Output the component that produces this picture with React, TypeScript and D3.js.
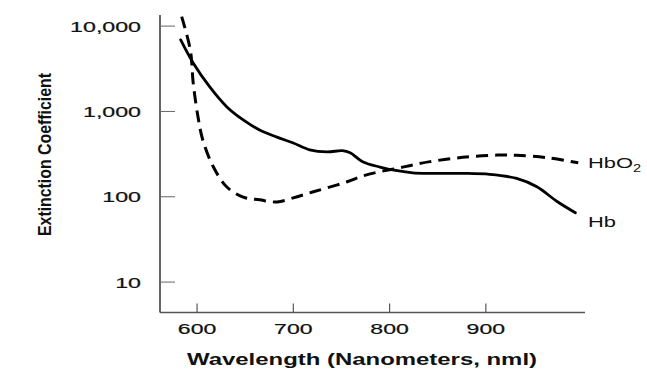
import React from "react";
import * as d3 from "d3";

const wavelengthTicks = [600, 700, 800, 900];
const coefTicks = [10, 100, 1000, 10000];
const coefTickLabels = ["10", "100", "1,000", "10,000"];

const hbWavelength = [583, 596, 613, 631, 648, 665, 683, 700, 717, 735, 751, 759, 772, 790, 808, 824, 842, 876, 904, 932, 953, 974, 993];
const hbValues = [6900, 3700, 1950, 1130, 795, 605, 500, 427, 355, 335, 347, 328, 258, 223, 202, 191, 188, 188, 183, 164, 131, 88, 65];

const hbo2Wavelength = [584, 593, 596, 601, 606, 617, 631, 648, 665, 683, 700, 717, 735, 756, 772, 790, 808, 824, 842, 876, 912, 932, 964, 996];
const hbo2Values = [12900, 5250, 2150, 860, 460, 223, 130, 99, 92, 87, 97, 111, 127, 150, 175, 197, 215, 236, 258, 290, 308, 306, 287, 250];

const W = 647;
const H = 372;
const FONT = "'Liberation Sans', Arial, Helvetica, sans-serif";

export default function App() {
  const x = d3.scaleLinear().domain([561.5, 1003]).range([160, 585]);
  const y = d3.scaleLog().domain([4.4, 13500]).range([312.5, 15]);

  const line = d3
    .line<[number, number]>()
    .x((d) => x(d[0]))
    .y((d) => y(d[1]))
    .curve(d3.curveCatmullRom.alpha(0.5));

  const hbPts: [number, number][] = hbWavelength.map((w, i) => [w, hbValues[i]]);
  const hbo2Pts: [number, number][] = hbo2Wavelength.map((w, i) => [w, hbo2Values[i]]);

  const [x0, x1] = x.range();
  const [yb, yt] = y.range();

  return (
    <svg
      width={W}
      height={H}
      style={{ position: "absolute", left: 0, top: 0, background: "#fff" }}
      fontFamily={FONT}
    >
      <rect x={0} y={0} width={W} height={H} fill="#fff" />
      {/* axes */}
      <line x1={x0} x2={x0} y1={yt} y2={yb} stroke="#333" strokeWidth={1.5} />
      <line x1={x0} x2={x1} y1={yb} y2={yb} stroke="#555" strokeWidth={1.3} />
      {coefTicks.map((v, i) => (
        <g key={"yt" + v}>
          <line x1={x0} x2={x0 + 15} y1={y(v)} y2={y(v)} stroke="#666" strokeWidth={1} />
          <g transform={`translate(141,${y(v) + 5.5}) scale(1.6,1)`}>
            <text x={0} y={0} textAnchor="end" fontSize={14.5} fill="#111" stroke="#111" strokeWidth={0.2}>
              {coefTickLabels[i]}
            </text>
          </g>
        </g>
      ))}
      {wavelengthTicks.map((w) => (
        <g key={"xt" + w}>
          <line x1={x(w)} x2={x(w)} y1={yb} y2={yb - 9} stroke="#555" strokeWidth={1.2} />
          <g transform={`translate(${x(w)},333.5) scale(1.65,1)`}>
            <text x={0} y={0} textAnchor="middle" fontSize={14} fill="#111" stroke="#111" strokeWidth={0.2}>
              {w}
            </text>
          </g>
        </g>
      ))}
      {/* curves */}
      <path d={line(hbPts) || ""} fill="none" stroke="#000" strokeWidth={2.8} strokeLinecap="round" />
      <path
        d={line(hbo2Pts) || ""}
        fill="none"
        stroke="#000"
        strokeWidth={3}
        strokeDasharray="12 7"
      />
      {/* labels */}
      <g transform="translate(588,168) scale(1.46,1)">
        <text x={0} y={0} fontSize={15} fill="#111">
          HbO
          <tspan fontSize={10} dy={4}>2</tspan>
        </text>
      </g>
      <g transform="translate(588,227) scale(1.46,1)">
        <text x={0} y={0} fontSize={15} fill="#111">Hb</text>
      </g>
      {/* titles */}
      <text
        x={187}
        y={365}
        fontSize={17}
        fontWeight="bold"
        fill="#111"
        textLength={350}
        lengthAdjust="spacingAndGlyphs"
      >
        Wavelength (Nanometers, nml)
      </text>
      <text
        transform="translate(51,236) rotate(-90)"
        x={0}
        y={0}
        fontSize={19}
        fontWeight="bold"
        fill="#111"
        textLength={163}
        lengthAdjust="spacingAndGlyphs"
      >
        Extinction Coefficient
      </text>
    </svg>
  );
}
